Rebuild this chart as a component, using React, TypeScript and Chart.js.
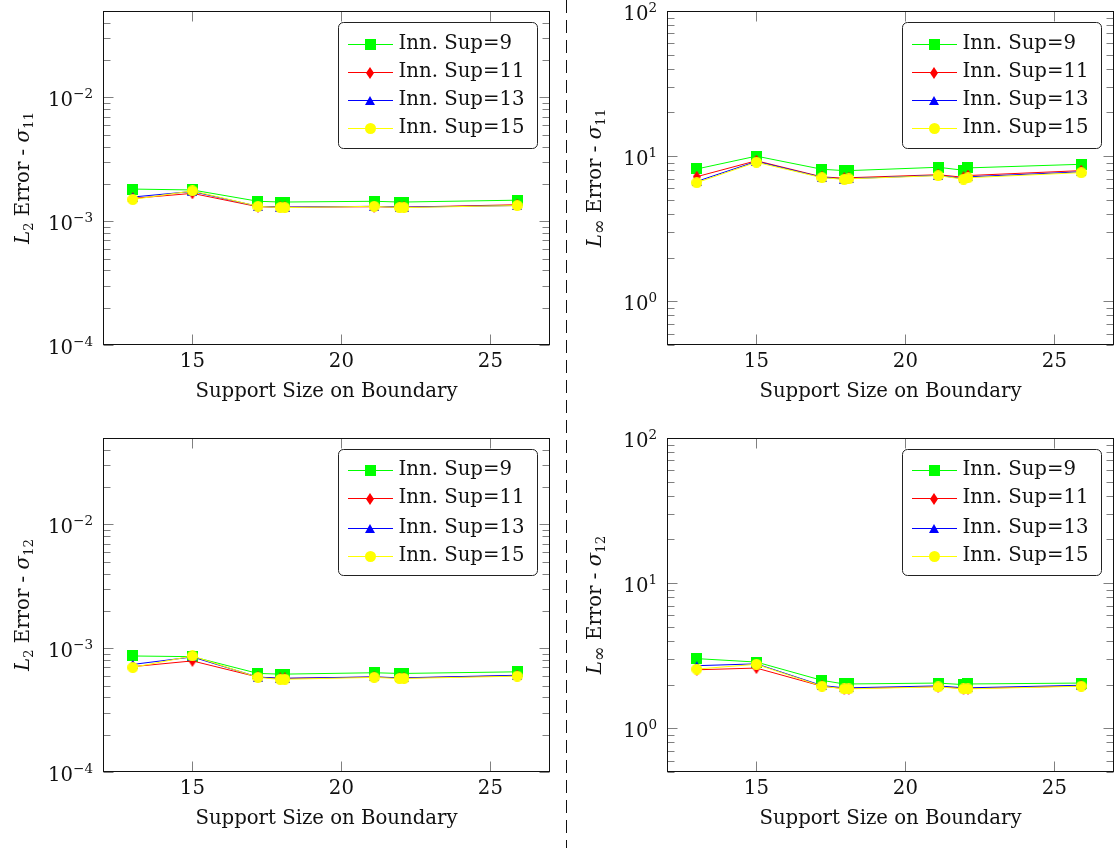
import React, { useEffect, useRef } from 'react';
import { Chart, registerables } from 'chart.js';

Chart.register(...registerables);

// ---------------- data ----------------
const SUPPORT_SIZES = [13, 15, 17.2, 17.95, 18.1, 21.1, 21.95, 22.1, 25.9];
const X_TICKS = [15, 20, 25];
const L2_TICKS = [1e-4, 1e-3, 1e-2];
const LINF_TICKS = [1, 10, 100];
const SERIES_LABELS = ['Inn. Sup=9', 'Inn. Sup=11', 'Inn. Sup=13', 'Inn. Sup=15'];
const X_TITLE = 'Support Size on Boundary';

// L2 error - sigma11
const L2_S11_SUP9 = [1.82e-3, 1.79e-3, 1.45e-3, 1.43e-3, 1.43e-3, 1.45e-3, 1.43e-3, 1.43e-3, 1.48e-3];
const L2_S11_SUP11 = [1.53e-3, 1.68e-3, 1.31e-3, 1.3e-3, 1.3e-3, 1.31e-3, 1.3e-3, 1.3e-3, 1.36e-3];
const L2_S11_SUP13 = [1.57e-3, 1.74e-3, 1.32e-3, 1.3e-3, 1.3e-3, 1.32e-3, 1.3e-3, 1.3e-3, 1.34e-3];
const L2_S11_SUP15 = [1.5e-3, 1.76e-3, 1.32e-3, 1.29e-3, 1.29e-3, 1.32e-3, 1.29e-3, 1.29e-3, 1.34e-3];

// Linf error - sigma11
const LINF_S11_SUP9 = [8.16, 10.0, 8.12, 7.95, 7.95, 8.38, 8.0, 8.3, 8.79];
const LINF_S11_SUP11 = [7.22, 9.3, 7.2, 7.05, 7.1, 7.45, 7.15, 7.35, 7.95];
const LINF_S11_SUP13 = [6.7, 9.2, 7.15, 6.95, 7.0, 7.38, 7.0, 7.2, 7.8];
const LINF_S11_SUP15 = [6.57, 9.08, 7.11, 6.92, 6.98, 7.34, 6.95, 7.1, 7.7];

// L2 error - sigma12
const L2_S12_SUP9 = [8.66e-4, 8.55e-4, 6.26e-4, 6.18e-4, 6.18e-4, 6.34e-4, 6.26e-4, 6.26e-4, 6.45e-4];
const L2_S12_SUP11 = [7.1e-4, 7.9e-4, 5.85e-4, 5.7e-4, 5.7e-4, 5.85e-4, 5.75e-4, 5.75e-4, 6.0e-4];
const L2_S12_SUP13 = [7.4e-4, 8.5e-4, 5.85e-4, 5.72e-4, 5.72e-4, 5.87e-4, 5.77e-4, 5.77e-4, 6.05e-4];
const L2_S12_SUP15 = [7.0e-4, 8.66e-4, 5.81e-4, 5.6e-4, 5.62e-4, 5.81e-4, 5.7e-4, 5.7e-4, 5.95e-4];

// Linf error - sigma12
const LINF_S12_SUP9 = [3.02, 2.86, 2.14, 2.02, 2.02, 2.05, 2.0, 2.02, 2.05];
const LINF_S12_SUP11 = [2.53, 2.6, 1.95, 1.88, 1.88, 1.94, 1.88, 1.88, 1.96];
const LINF_S12_SUP13 = [2.7, 2.78, 1.97, 1.9, 1.9, 1.96, 1.9, 1.9, 1.98];
const LINF_S12_SUP15 = [2.56, 2.76, 1.95, 1.87, 1.87, 1.93, 1.87, 1.87, 1.95];

// ---------------- styles ----------------
const FONT = '"DejaVu Serif", "Liberation Serif", serif';
const BASE = 19.7;
const SMALL = 13.5;
const COLORS = ['#00ff00', '#ff0000', '#0000ff', '#ffff00'];
const MARKERS = ['square', 'diamond', 'triangle', 'circle'];

type Seg = { t: string; italic?: boolean; small?: boolean; size?: number; shift?: number };

const TITLE_L2_S11: Seg[] = [
  { t: 'L', italic: true }, { t: '2', small: true, shift: 4 }, { t: ' Error - ' },
  { t: 'σ', italic: true }, { t: '11', small: true, shift: 4 },
];
const TITLE_LINF_S11: Seg[] = [
  { t: 'L', italic: true }, { t: '∞', size: 18, shift: 4 }, { t: ' Error - ' },
  { t: 'σ', italic: true }, { t: '11', small: true, shift: 4 },
];
const TITLE_L2_S12: Seg[] = [
  { t: 'L', italic: true }, { t: '2', small: true, shift: 4 }, { t: ' Error - ' },
  { t: 'σ', italic: true }, { t: '12', small: true, shift: 4 },
];
const TITLE_LINF_S12: Seg[] = [
  { t: 'L', italic: true }, { t: '∞', size: 18, shift: 4 }, { t: ' Error - ' },
  { t: 'σ', italic: true }, { t: '12', small: true, shift: 4 },
];

const PANELS = [
  {
    left: 0, top: 0, width: 557, height: 424, padTop: 11, padRight: 7, yWidth: 103, xHeight: 79,
    yMin: 1e-4, yMax: 5e-2, yTicks: L2_TICKS, title: TITLE_L2_S11, titleGap: 74,
    series: [L2_S11_SUP9, L2_S11_SUP11, L2_S11_SUP13, L2_S11_SUP15],
  },
  {
    left: 557, top: 0, width: 558, height: 424, padTop: 11, padRight: 1, yWidth: 110, xHeight: 79,
    yMin: 0.5, yMax: 100, yTicks: LINF_TICKS, title: TITLE_LINF_S11, titleGap: 66,
    series: [LINF_S11_SUP9, LINF_S11_SUP11, LINF_S11_SUP13, LINF_S11_SUP15],
  },
  {
    left: 0, top: 424, width: 557, height: 424, padTop: 14, padRight: 7, yWidth: 103, xHeight: 76,
    yMin: 1e-4, yMax: 5e-2, yTicks: L2_TICKS, title: TITLE_L2_S12, titleGap: 74,
    series: [L2_S12_SUP9, L2_S12_SUP11, L2_S12_SUP13, L2_S12_SUP15],
  },
  {
    left: 557, top: 424, width: 558, height: 424, padTop: 14, padRight: 1, yWidth: 110, xHeight: 76,
    yMin: 0.5, yMax: 100, yTicks: LINF_TICKS, title: TITLE_LINF_S12, titleGap: 66,
    series: [LINF_S12_SUP9, LINF_S12_SUP11, LINF_S12_SUP13, LINF_S12_SUP15],
  },
];

function markerCanvas(kind: string, color: string): HTMLCanvasElement {
  const c = document.createElement('canvas');
  const dims: Record<string, [number, number]> = {
    square: [11, 11], diamond: [8, 12], triangle: [10, 9], circle: [11, 11],
  };
  const [w, h] = dims[kind];
  c.width = w;
  c.height = h;
  const g = c.getContext('2d')!;
  g.fillStyle = color;
  g.beginPath();
  if (kind === 'square') g.rect(0, 0, w, h);
  else if (kind === 'diamond') {
    g.moveTo(w / 2, 0); g.lineTo(w, h / 2); g.lineTo(w / 2, h); g.lineTo(0, h / 2); g.closePath();
  } else if (kind === 'triangle') {
    g.moveTo(w / 2, 0); g.lineTo(w, h); g.lineTo(0, h); g.closePath();
  } else {
    g.arc(w / 2, h / 2, w / 2, 0, Math.PI * 2);
  }
  g.fill();
  return c;
}

function fontFor(s: Seg) {
  const size = s.size || (s.small ? SMALL : BASE);
  return `${s.italic ? 'italic ' : ''}${size}px ${FONT}`;
}

function drawRich(ctx: CanvasRenderingContext2D, segs: Seg[], x: number, y: number, align: string) {
  const widths = segs.map((s) => {
    ctx.font = fontFor(s);
    return ctx.measureText(s.t).width;
  });
  const total = widths.reduce((a, b) => a + b, 0);
  let cx = align === 'center' ? x - total / 2 : align === 'right' ? x - total : x;
  ctx.textAlign = 'left';
  ctx.textBaseline = 'alphabetic';
  segs.forEach((s, i) => {
    ctx.font = fontFor(s);
    ctx.fillText(s.t, cx, y + (s.shift || 0));
    cx += widths[i];
  });
}

function decorPlugin(panel: any, markers: HTMLCanvasElement[]) {
  return {
    id: 'decor',
    afterDraw(chart: any) {
      const ctx: CanvasRenderingContext2D = chart.ctx;
      const a = chart.chartArea;
      const xs = chart.scales.x;
      const ys = chart.scales.y;
      const L = Math.round(a.left) + 0.5;
      const R = Math.round(a.right) - 0.5;
      const T = Math.round(a.top) + 0.5;
      const B = Math.round(a.bottom) - 0.5;
      ctx.save();
      ctx.setLineDash([]);

      // ticks
      ctx.strokeStyle = '#808080';
      ctx.lineWidth = 1;
      const major = 10;
      const minor = 7;
      const dMin = Math.floor(Math.log10(panel.yMin));
      const dMax = Math.ceil(Math.log10(panel.yMax));
      ctx.beginPath();
      for (let d = dMin; d <= dMax; d++) {
        for (let k = 1; k <= 9; k++) {
          const v = k * Math.pow(10, d);
          if (v < panel.yMin * 0.9999 || v > panel.yMax * 1.0001) continue;
          const py = Math.round(ys.getPixelForValue(v)) + 0.5;
          const len = k === 1 ? major : minor;
          ctx.moveTo(L, py); ctx.lineTo(L + len, py);
          ctx.moveTo(R, py); ctx.lineTo(R - len, py);
        }
      }
      xs.ticks.forEach((t: any) => {
        const px = Math.round(xs.getPixelForValue(t.value)) + 0.5;
        ctx.moveTo(px, B); ctx.lineTo(px, B - major);
        ctx.moveTo(px, T); ctx.lineTo(px, T + major);
      });
      ctx.stroke();

      // frame
      ctx.strokeStyle = '#111';
      ctx.strokeRect(L, T, R - L, B - T);

      ctx.fillStyle = '#111';
      // y tick labels
      ys.ticks.forEach((t: any) => {
        const py = ys.getPixelForValue(t.value);
        const e = Math.round(Math.log10(t.value));
        const expText = e < 0 ? '−' + Math.abs(e) : String(e);
        drawRich(ctx, [{ t: '10' }, { t: expText, small: true, shift: -8 }], a.left - 10, py + 9, 'right');
      });

      // x tick labels
      xs.ticks.forEach((t: any) => {
        const px = xs.getPixelForValue(t.value);
        drawRich(ctx, [{ t: String(t.value) }], px, a.bottom + 22, 'center');
      });

      // x title
      drawRich(ctx, [{ t: X_TITLE }], (a.left + a.right) / 2, a.bottom + 52, 'center');

      // y title (rotated)
      ctx.save();
      ctx.translate(a.left - panel.titleGap, (a.top + a.bottom) / 2);
      ctx.rotate(-Math.PI / 2);
      drawRich(ctx, panel.title, 0, 0, 'center');
      ctx.restore();

      // legend
      const bw = 199;
      const bh = 126;
      const bx = Math.round(a.right - 13 - bw) + 0.5;
      const by = Math.round(a.top + 10.5) + 0.5;
      ctx.beginPath();
      ctx.roundRect(bx, by, bw, bh, 5);
      ctx.fillStyle = '#fff';
      ctx.fill();
      ctx.strokeStyle = '#222';
      ctx.lineWidth = 1;
      ctx.stroke();
      SERIES_LABELS.forEach((lab, i) => {
        const cy = 2 * Math.round((by + 21 + i * 28.3) / 2);
        ctx.fillStyle = COLORS[i];
        ctx.fillRect(Math.round(bx + 9), cy, 45, 1);
        const m = markers[i];
        ctx.drawImage(m, Math.round(bx + 31.5 - m.width / 2), Math.round(cy + 0.5 - m.height / 2));
        ctx.fillStyle = '#111';
        drawRich(ctx, [{ t: lab }], bx + 60, cy + 5, 'left');
      });

      ctx.restore();
    },
  };
}

function Panel({ panel }: { panel: any }) {
  const ref = useRef<HTMLCanvasElement>(null);
  useEffect(() => {
    if (!ref.current) return;
    const markers = MARKERS.map((k, i) => markerCanvas(k, COLORS[i]));
    const datasets = panel.series.map((vals: number[], i: number) => ({
      label: SERIES_LABELS[i],
      data: SUPPORT_SIZES.map((x, j) => ({ x, y: vals[j] })),
      borderColor: COLORS[i],
      backgroundColor: COLORS[i],
      borderWidth: 1,
      pointStyle: markers[i],
      pointRadius: 6,
      pointHoverRadius: 6,
      pointBorderWidth: 0,
      tension: 0,
      order: 4 - i,
    }));
    const chart = new Chart(ref.current, {
      type: 'line',
      data: { datasets },
      options: {
        animation: false,
        responsive: false,
        devicePixelRatio: 1,
        events: [],
        layout: {
          autoPadding: false,
          padding: { left: 0, right: panel.padRight, top: panel.padTop, bottom: 0 },
        },
        plugins: {
          legend: { display: false },
          tooltip: { enabled: false },
          title: { display: false },
        },
        scales: {
          x: {
            type: 'linear',
            min: 12,
            max: 27,
            position: 'bottom',
            grid: { display: false },
            border: { display: false },
            ticks: { display: false },
            afterBuildTicks: (s: any) => { s.ticks = X_TICKS.map((v) => ({ value: v })); },
            afterFit: (s: any) => { s.height = panel.xHeight; },
          },
          y: {
            type: 'logarithmic',
            min: panel.yMin,
            max: panel.yMax,
            position: 'left',
            grid: { display: false },
            border: { display: false },
            ticks: { display: false },
            afterBuildTicks: (s: any) => { s.ticks = panel.yTicks.map((v: number) => ({ value: v })); },
            afterFit: (s: any) => { s.width = panel.yWidth; },
          },
        },
      } as any,
      plugins: [decorPlugin(panel, markers)],
    });
    return () => chart.destroy();
  }, [panel]);
  return (
    <canvas
      ref={ref}
      width={panel.width}
      height={panel.height}
      style={{ position: 'absolute', left: panel.left, top: panel.top, width: panel.width, height: panel.height }}
    />
  );
}

export default function App() {
  return (
    <div style={{ position: 'absolute', left: 0, top: 0, width: 1115, height: 848, background: '#fff', overflow: 'hidden' }}>
      {PANELS.map((p, i) => (
        <Panel key={i} panel={p} />
      ))}
      <svg width={1115} height={848} style={{ position: 'absolute', left: 0, top: 0, pointerEvents: 'none' }}>
        <line x1={566.5} y1={0} x2={566.5} y2={848} stroke="#111" strokeWidth={1} strokeDasharray="13 7" />
      </svg>
    </div>
  );
}
